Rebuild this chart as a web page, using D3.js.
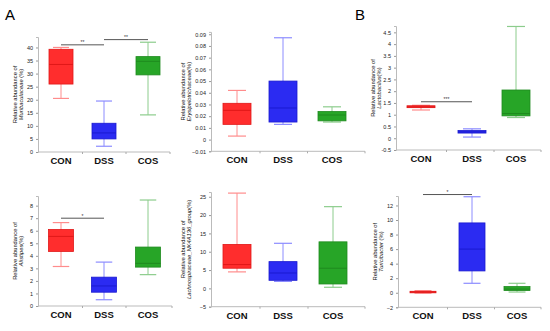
<!DOCTYPE html>
<meta charset="utf-8">
<style>
  body { margin: 0; background: #fff; }
  svg text { font-family: 'Liberation Sans', Arial, sans-serif; }
  .tick-lab { font-size: 5.5px; fill: #222; }
  .cat { font-size: 9.5px; font-weight: bold; fill: #111; }
  .ylab { font-size: 5.8px; fill: #111; }
  .panel-letter { font-size: 15px; fill: #000; }
</style>
<script src="https://d3js.org/d3.v7.min.js"></script>
<div id="chart"></div>
<script>

// groups on the x axis
var groups = ["CON", "DSS", "COS"];

// box stats per group: [min, q1, median, q3, max]
var muribaculaceae = [[20.5, 26, 33.5, 39.3, 40], [2.2, 5, 7.3, 11, 19.5], [14.2, 29.5, 34.7, 36.5, 42]];
var erysipelotrichaceae = [[0.003, 0.013, 0.025, 0.031, 0.042], [0.013, 0.015, 0.027, 0.050, 0.087], [0.015, 0.016, 0.021, 0.024, 0.028]];
var lactobacillus = [[1.2, 1.3, 1.33, 1.38, 1.4], [0.05, 0.22, 0.27, 0.33, 0.4], [0.88, 0.95, 1.05, 2.05, 4.75]];
var alistipes = [[3.15, 4.35, 5.55, 6.1, 6.65], [0.5, 1.1, 1.6, 2.3, 3.5], [2.5, 3.1, 3.4, 4.7, 8.45]];
var lachnospiraceae = [[4.5, 5.5, 6.5, 12, 26], [1.9, 2.2, 4.2, 7.3, 12.3], [0.3, 1.2, 5.5, 12.7, 22.3]];
var turicibacter = [[-0.05, 0, 0.1, 0.2, 0.3], [1.3, 3, 6, 9.6, 13.2], [0.1, 0.3, 0.5, 0.85, 1.3]];

// y tick labels
var ticks1 = [0, 5, 10, 15, 20, 25, 30, 35, 40];
var ticks2 = [-0.01, 0, 0.01, 0.02, 0.03, 0.04, 0.05, 0.06, 0.07, 0.08, 0.09];
var ticks3 = [-0.5, 0, 0.5, 1, 1.5, 2, 2.5, 3, 3.5, 4, 4.5];
var ticks4 = [0, 1, 2, 3, 4, 5, 6, 7, 8];
var ticks5 = [-5, 0, 5, 10, 15, 20, 25];
var ticks6 = [-2, 0, 2, 4, 6, 8, 10, 12];

// significance: [from group, to group, y value, stars]
var sig1 = [["CON", "DSS", 41, "**"], ["DSS", "COS", 43, "**"]];
var sig2 = [];
var sig3 = [["CON", "DSS", 1.55, "***"]];
var sig4 = [["CON", "DSS", 7.0, "*"]];
var sig5 = [];
var sig6 = [["CON", "DSS", 13.5, "*"]];

var fills = ["#ff2d2d", "#2b2bf2", "#27a527"];
var strokes = ["#e01818", "#1a1ad0", "#1f8a1f"];
var whiskers = ["#ff8c8c", "#8c8cff", "#8ccc8c"];

var panels = [
  {data: muribaculaceae, ticks: ticks1, sig: sig1, fmt: d3.format("d"), dom: [0, 44], ax: 38, xr: 170, y0: 152, y1: 37, cx: [61, 104, 148], bw: 24, lx: 21, name: "Muribaculaceae", unit: " (%)"},
  {data: erysipelotrichaceae, ticks: ticks2, sig: sig2, fmt: function(d){ return d === 0 ? "0" : d3.format(".2f")(d); }, dom: [-0.01, 0.092], ax: 211, xr: 365, y0: 151.3, y1: 31.9, cx: [237, 283, 332], bw: 28, lx: 26, name: "Erysipelotrichaceae", unit: "(%)"},
  {data: lactobacillus, ticks: ticks3, sig: sig3, fmt: function(d){ return String(d); }, dom: [-0.5, 4.77], ax: 396, xr: 541, y0: 150, y1: 26, cx: [421, 472, 516], bw: 28, lx: 21, name: "Lactobacilus", unit: "(%)"},
  {data: alistipes, ticks: ticks4, sig: sig4, fmt: d3.format("d"), dom: [0, 8.77], ax: 38, xr: 172, y0: 306, y1: 196, cx: [61, 104, 148], bw: 25, lx: 21, name: "Alistipes", unit: "(%)"},
  {data: lachnospiraceae, ticks: ticks5, sig: sig5, fmt: d3.format("d"), dom: [-5, 26.3], ax: 211, xr: 365, y0: 306.7, y1: 192, cx: [237, 283, 333], bw: 28, lx: 26, name: "Lachnospiraceae_NK4A136_group", unit: "(%)"},
  {data: turicibacter, ticks: ticks6, sig: sig6, fmt: d3.format("d"), dom: [-2, 13.3], ax: 398, xr: 541, y0: 307.3, y1: 196, cx: [423, 472, 517], bw: 26, lx: 21, name: "Turicibacter", unit: " (%)"}
];

var svg = d3.select("#chart").append("svg")
  .attr("width", 550)
  .attr("height", 331);

svg.append("text").attr("class", "panel-letter").attr("x", 5).attr("y", 20).text("A");
svg.append("text").attr("class", "panel-letter").attr("x", 355).attr("y", 20).text("B");

panels.forEach(function(p) {
  var g = svg.append("g");

  var y = d3.scaleLinear().domain(p.dom).range([p.y0, p.y1]);
  var x = d3.scaleOrdinal().domain(groups).range(p.cx);

  // y axis
  var yAxis = d3.axisLeft(y).tickValues(p.ticks).tickFormat(p.fmt).tickSize(2).tickPadding(3);
  var ya = g.append("g")
    .attr("transform", "translate(" + p.ax + ",0)")
    .call(yAxis);
  ya.select(".domain").attr("stroke", "#bbb").attr("stroke-width", 1);
  ya.selectAll(".tick line").attr("stroke", "#999");
  ya.selectAll(".tick text").attr("class", "tick-lab").attr("font-size", null).attr("font-family", null);

  // x axis line
  g.append("line")
    .attr("x1", p.ax).attr("x2", p.xr)
    .attr("y1", p.y0).attr("y2", p.y0)
    .attr("stroke", "#bbb");
  // separators between groups
  var seps = [(p.cx[0] + p.cx[1]) / 2, (p.cx[1] + p.cx[2]) / 2, p.xr];
  g.selectAll(".sep").data(seps).enter().append("line")
    .attr("x1", function(d){ return d; }).attr("x2", function(d){ return d; })
    .attr("y1", p.y0).attr("y2", p.y0 + 2)
    .attr("stroke", "#aaa");

  g.selectAll(".cat").data(groups).enter().append("text")
    .attr("class", "cat")
    .attr("x", function(d){ return x(d); })
    .attr("y", p.y0 + 12)
    .attr("text-anchor", "middle")
    .text(function(d){ return d; });

  // y label
  var my = (p.y0 + p.y1) / 2;
  var lab = g.append("text")
    .attr("class", "ylab")
    .attr("transform", "translate(" + (p.ax - p.lx) + "," + my + ")rotate(-90)")
    .attr("text-anchor", "middle");
  lab.append("tspan").attr("x", 0).attr("dy", 0).text("Relative abundance of");
  var l2 = lab.append("tspan").attr("x", 0).attr("dy", 5.5);
  l2.append("tspan").attr("font-style", "italic").text(p.name);
  l2.append("tspan").text(p.unit);

  // boxes
  var bx = g.selectAll(".box").data(p.data).enter().append("g");
  bx.each(function(d, i) {
    var b = d3.select(this);
    var c = x(groups[i]);
    var cap = p.bw * 0.5;
    b.append("line")
      .attr("x1", c).attr("x2", c)
      .attr("y1", y(d[4])).attr("y2", y(d[0]))
      .attr("stroke", whiskers[i]).attr("stroke-width", 1);
    [d[0], d[4]].forEach(function(v) {
      b.append("line")
        .attr("x1", c - cap / 2 - 2).attr("x2", c + cap / 2 + 2)
        .attr("y1", y(v)).attr("y2", y(v))
        .attr("stroke", whiskers[i]).attr("stroke-width", 1.2);
    });
    b.append("rect")
      .attr("x", c - p.bw / 2)
      .attr("y", y(d[3]))
      .attr("width", p.bw)
      .attr("height", Math.max(1.5, y(d[1]) - y(d[3])))
      .attr("fill", fills[i])
      .attr("stroke", strokes[i])
      .attr("stroke-width", 0.8);
    b.append("line")
      .attr("x1", c - p.bw / 2).attr("x2", c + p.bw / 2)
      .attr("y1", y(d[2])).attr("y2", y(d[2]))
      .attr("stroke", strokes[i]).attr("stroke-width", 1);
  });

  // significance bars
  p.sig.forEach(function(s) {
    var yy = y(s[2]);
    g.append("line")
      .attr("x1", x(s[0])).attr("x2", x(s[1]))
      .attr("y1", yy).attr("y2", yy)
      .attr("stroke", "#555").attr("stroke-width", 1);
    g.append("text")
      .attr("x", (x(s[0]) + x(s[1])) / 2)
      .attr("y", yy - 0.5)
      .attr("text-anchor", "middle")
      .attr("font-size", "5px")
      .attr("fill", "#333")
      .text(s[3]);
  });
});

</script>
